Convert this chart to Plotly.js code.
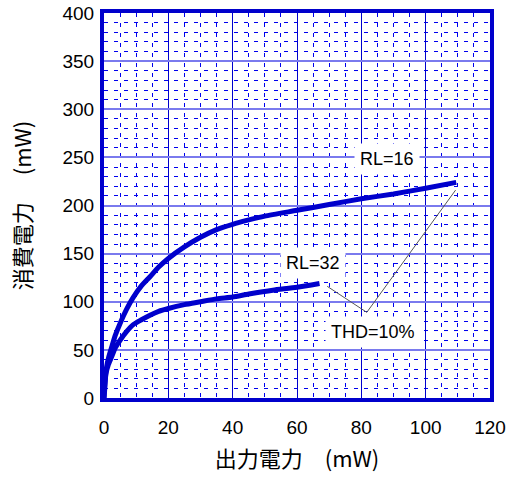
<!DOCTYPE html>
<html><head><meta charset="utf-8">
<script src="https://cdn.plot.ly/plotly-3.0.1.min.js"></script>
<style>body{margin:0;background:#fff}#c{width:509px;height:479px}</style>
</head><body><div id="c"></div>
<script>
const rl16X = [0, 0.2, 0.8, 1.5, 2.4, 3.5, 5, 7, 9, 11.5, 14.3, 17, 20, 25, 30, 35, 40, 45, 50, 60, 70, 80, 90, 100, 109.5];
const rl16Y = [0, 12, 32, 43, 53, 65, 77.5, 92, 104, 116, 126, 136, 145, 157, 167, 175, 180.5, 185, 189, 195, 201, 207, 212, 218, 224];
const rl32X = [0, 0.2, 0.6, 1.4, 2.4, 3.5, 5, 7, 9, 11.5, 14.3, 17, 20, 25, 30, 35, 40, 45, 52.5, 60, 67];
const rl32Y = [0, 8, 25, 35, 43, 52, 60, 69, 76, 81, 86, 90, 93, 97, 100, 103, 105, 108, 112, 115, 119];
const thdX = [69.4, 81.7, 109.3];
const thdY = [116, 89, 216];
const labelText = ['RL=16', 'RL=32', 'THD=10%'];
const labelX = [88, 65, 83.7];
const labelY = [248.5, 140, 68.5];
const xTicks = [0,20,40,60,80,100,120];
const yTicks = [0,50,100,150,200,250,300,350,400];

const blue = '#0000cc';
const traces = [
  {x: rl16X, y: rl16Y, mode:'lines', line:{color:blue, width:5, shape:'spline', smoothing:0.6}, hoverinfo:'skip'},
  {x: rl32X, y: rl32Y, mode:'lines', line:{color:blue, width:5, shape:'spline', smoothing:0.6}, hoverinfo:'skip'},
  {x: thdX, y: thdY, mode:'lines', line:{color:'#555', width:1}, hoverinfo:'skip'}
];
const sans = 'Liberation Sans, Arial, sans-serif';
const layout = {
  width:509, height:479,
  margin:{l:104, r:19, t:13, b:81},
  paper_bgcolor:'#fff', plot_bgcolor:'#fff',
  showlegend:false,
  font:{family:sans, color:'#000'},
  xaxis:{range:[0,120], tickvals:xTicks, ticks:'outside', ticklen:9, tickcolor:'rgba(0,0,0,0)', tickfont:{size:19}, showline:true, mirror:true,
    linecolor:blue, linewidth:4, showgrid:true, gridcolor:blue, gridwidth:1, zeroline:false,
    minor:{dtick:5, tick0:0, showgrid:true, gridcolor:'#0000ee', gridwidth:1, griddash:'4px,6px'},
    title:{text:'出力電力　(mW)', font:{family:'Noto Sans CJK JP', size:22}, standoff:16}},
  yaxis:{range:[0,400], tickvals:yTicks, ticks:'outside', ticklen:2, tickcolor:'rgba(0,0,0,0)', tickfont:{size:19}, showline:true, mirror:true,
    linecolor:blue, linewidth:4, showgrid:true, gridcolor:'#7a7aee', gridwidth:2, zeroline:false,
    minor:{dtick:10, tick0:0, showgrid:true, gridcolor:'#0000ee', gridwidth:1, griddash:'4px,6px'},
    title:{text:'消費電力　 (mW)', font:{family:'Noto Sans CJK JP', size:22}, standoff:26}},
  annotations: labelText.map((t,i) => ({x:labelX[i], y:labelY[i], xref:'x', yref:'y', text:t, showarrow:false,
    font:{size:18, family:sans}, bgcolor:'#fff', borderpad:5}))
};
Plotly.newPlot('c', traces, layout, {staticPlot:true});
</script></body></html>
